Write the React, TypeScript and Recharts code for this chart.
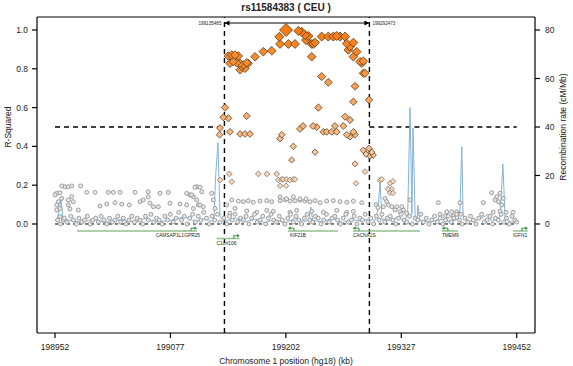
import React from "react";
import { ComposedChart, Scatter, XAxis, YAxis, ReferenceLine } from "recharts";

const FONT = "'Liberation Sans', Arial, Helvetica, sans-serif";

// axes (kb on x, r-squared left, cM/Mb right)
const X_TICKS = [198952, 199077, 199202, 199327, 199452];
const R2_TICKS = [0, 0.2, 0.4, 0.6, 0.8, 1.0];
const RATE_TICKS = [0, 20, 40, 60, 80];
const X_DOMAIN: [number, number] = [198932.5, 199471.8];
const R2_DOMAIN: [number, number] = [-0.562, 1.067];
const RATE_DOMAIN: [number, number] = [-44.96, 85.36];

const TITLE = "rs11584383 ( CEU )";
const BOUNDS = [199135.485, 199292.473];
const BOUND_LABELS = ["199135485", "199292473"];
const BOUND_ARROW_Y = 1.036;
const R2_CUTOFF = 0.5;
const RANGE_START = 198952;
const RANGE_END = 199452;

// query SNP
const KEY_SNP: [number, number][] = [[199202.2, 1.0]];

// SNPs in strong LD (orange diamonds)
const ldStrong: [number, number][] = [
  [199194.9, 0.965], [199195.7, 0.928], [199204.7, 0.928], [199211.9, 0.928],
  [199215.5, 0.995], [199219.2, 0.99], [199222.8, 0.974], [199226.3, 0.969],
  [199223.8, 0.948], [199230, 0.928], [199231.7, 0.928], [199233.6, 0.935],
  [199240.8, 0.966], [199248, 0.966], [199253.4, 0.966], [199257.1, 0.969],
  [199260.7, 0.966], [199266.1, 0.966], [199268, 0.93], [199271.5, 0.914],
  [199275.1, 0.935], [199269.6, 0.897], [199278.7, 0.888], [199275.1, 0.862],
  [199282.3, 0.837], [199284.2, 0.828], [199285.9, 0.777], [199287.7, 0.777],
  [199139.7, 0.866], [199143.4, 0.871], [199146.9, 0.871], [199150.5, 0.866],
  [199141.5, 0.828], [199145.1, 0.837], [199148.8, 0.831], [199152.4, 0.828],
  [199154.2, 0.811], [199155.9, 0.82], [199159.6, 0.831], [199161.3, 0.828],
  [199152.4, 0.794], [199157.8, 0.802], [199168.6, 0.862], [199177.6, 0.888],
  [199186.7, 0.893],
  [199230, 0.862], [199240.8, 0.76], [199248, 0.73], [199237.2, 0.6],
  [199276.9, 0.71], [199275.1, 0.63], [199292, 0.64], [199285.9, 0.84],
  [199136.1, 0.6], [199134.3, 0.55], [199139.7, 0.545], [199159.6, 0.557],
  [199130.7, 0.495], [199130.2, 0.46], [199141.5, 0.475], [199152.4, 0.464],
  [199157.8, 0.464], [199163.2, 0.464], [199195.7, 0.44], [199197.5, 0.46],
  [199217.3, 0.49], [199220.6, 0.505], [199231.4, 0.505], [199235.4, 0.5],
  [199242.6, 0.475], [199246.2, 0.475], [199251.7, 0.475], [199255.2, 0.505],
  [199257.1, 0.475], [199264.2, 0.505], [199266.1, 0.553], [199271.5, 0.536],
  [199268, 0.46], [199271.5, 0.45], [199276.9, 0.46], [199275.1, 0.475],
  [199210.1, 0.4], [199233.6, 0.37], [199208.3, 0.33], [199292, 0.39],
  [199295, 0.37], [199293.1, 0.35], [199296.7, 0.355], [199276.9, 0.31],
  [199285.9, 0.38], [199288.8, 0.36],
];

// weak LD (pale diamonds)
const ldWeak: [number, number][] = [
  [199287.7, 0.27], [199304, 0.225], [199305.8, 0.23], [199314.8, 0.21],
  [199318, 0.22], [199316.6, 0.18], [199312.6, 0.18], [199314.8, 0.16],
  [199318, 0.16], [199140.8, 0.258], [199143.4, 0.218], [199172.2, 0.258],
  [199181.3, 0.258], [199192.1, 0.258], [199193.8, 0.227], [199197.5, 0.23],
  [199199.2, 0.23], [199202.9, 0.23], [199206.5, 0.227], [199210.1, 0.23],
  [199211.9, 0.23], [199195.7, 0.197], [199202.2, 0.197], [199278, 0.21],
  [199130.7, 0.227],
];

// no LD (grey circles)
const ldNone: [number, number][] = [
  [198953.8, 0.158], [198957.4, 0.161], [198959.3, 0.132], [198955.6, 0.115],
  [198962.8, 0.192], [198966.4, 0.192], [198970.1, 0.196], [198959.3, 0.196],
  [198952, 0.15], [198953.8, 0.098], [198957.4, 0.08], [198966.4, 0.124],
  [198970.1, 0.141], [198971.8, 0.115], [198966.4, 0.098], [198968.2, 0.077],
  [198957.4, 0.038], [198977.2, 0.072], [198961, 0.02], [198953.8, 0.072],
  [198979.8, 0.196],
  [198986.3, 0.163], [198995.3, 0.163], [199009.7, 0.163], [199015.1, 0.163],
  [199022.4, 0.163], [199038.6, 0.163], [199053, 0.166], [199065.7, 0.158],
  [199074.7, 0.163], [199053, 0.14],
  [199000.7, 0.093], [199008, 0.103], [199017, 0.11], [199024.2, 0.102],
  [199032.5, 0.098], [199044.1, 0.115], [199047.6, 0.124], [199054.9, 0.107],
  [199058.5, 0.089], [199063.9, 0.089], [199076.5, 0.107], [199087.4, 0.103],
  [199094.6, 0.158], [199098.2, 0.15], [199101.8, 0.141], [199105.5, 0.192],
  [199107.2, 0.098],
  [199100, 0.15], [199103.6, 0.19], [199109, 0.19], [199110.9, 0.166],
  [199105.5, 0.124], [199094.6, 0.098], [199101.8, 0.08], [199109, 0.098],
  [199112.6, 0.089], [199121.7, 0.158], [199123.4, 0.124], [199125.3, 0.08],
  [199137.9, 0.098], [199141.5, 0.055], [199143.4, 0.124], [199146.9, 0.08],
  [199150.5, 0.118], [199155.9, 0.115], [199161.3, 0.12], [199166.7, 0.112],
  [199174, 0.118], [199181.3, 0.12], [199186.7, 0.115], [199195.7, 0.12],
  [199201.1, 0.125], [199206.5, 0.118], [199211.9, 0.12], [199217.3, 0.122],
  [199222.7, 0.118], [199228.2, 0.115], [199233.6, 0.12], [199239, 0.11],
  [199246.2, 0.118], [199253.4, 0.12], [199260.7, 0.115], [199268, 0.112],
  [199275.1, 0.118], [199284.2, 0.11],
  [199195.7, 0.14], [199202.9, 0.13], [199210.1, 0.14], [199217.3, 0.13],
  [199223.8, 0.13],
  [199159.6, 0.067], [199170.4, 0.06], [199181.3, 0.07], [199188.4, 0.065],
  [199206.5, 0.06], [199213.7, 0.07], [199230, 0.065], [199242.6, 0.06],
  [199257.1, 0.07], [199268, 0.06], [199275.1, 0.065],
  [199367.1, 0.11], [199390.6, 0.11], [199415.8, 0.11], [199424.9, 0.161],
  [199430.4, 0.141], [199432.1, 0.115], [199428.5, 0.124], [199433.9, 0.158],
  [199437.5, 0.132], [199435.8, 0.098], [199309.4, 0.132], [199311.2, 0.115],
  [199307.6, 0.089], [199313, 0.098], [199316.6, 0.089], [199322.1, 0.089],
  [199320.2, 0.072], [199325.6, 0.063], [199329.2, 0.072], [199327.5, 0.089],
  [199332.9, 0.055], [199336.5, 0.124], [199369, 0.05], [199376.2, 0.063],
  [199381.6, 0.063], [199387, 0.063], [199391.6, 0.05], [199374.4, 0.04],
  [199383.4, 0.04], [199426.4, 0.06], [199434, 0.065], [199440.4, 0.06],
  [199448, 0.06], [199299.6, 0.1], [199301.8, 0.085],
  // dense band near zero
  [198955, 0.02], [198958, 0.0], [198962, 0.03], [198965, 0.01], [198969, 0.04],
  [198972, 0.02], [198975, 0.0], [198978, 0.03], [198981, 0.01], [198984, 0.02],
  [198987, 0.04], [198990, 0.0], [198993, 0.02], [198996, 0.03], [198999, 0.01],
  [199002, 0.04], [199005, 0.02], [199008, 0.0], [199011, 0.03], [199014, 0.01],
  [199017, 0.02], [199020, 0.04], [199023, 0.01], [199026, 0.03], [199029, 0.0],
  [199032, 0.02], [199035, 0.04], [199038, 0.01], [199041, 0.03], [199044, 0.02],
  [199047, 0.0], [199050, 0.04], [199053, 0.02], [199056, 0.05], [199059, 0.01],
  [199062, 0.03], [199065, 0.02], [199068, 0.0], [199071, 0.04], [199074, 0.02],
  [199077, 0.05], [199080, 0.01], [199083, 0.03], [199086, 0.06], [199089, 0.02],
  [199092, 0.04], [199095, 0.0], [199098, 0.03], [199101, 0.05], [199104, 0.01],
  [199107, 0.04], [199110, 0.02], [199113, 0.06], [199116, 0.03], [199119, 0.0],
  [199122, 0.04], [199125, 0.02], [199128, 0.05], [199131, 0.01],
  [199135, 0.03], [199138, 0.0], [199141, 0.04], [199144, 0.02], [199147, 0.05],
  [199150, 0.01], [199153, 0.03], [199156, 0.02], [199159, 0.04], [199162, 0.0],
  [199165, 0.03], [199168, 0.05], [199171, 0.01], [199174, 0.02], [199177, 0.04],
  [199180, 0.0], [199183, 0.03], [199186, 0.05], [199189, 0.02], [199192, 0.01],
  [199195, 0.04], [199198, 0.02], [199201, 0.0], [199204, 0.03], [199207, 0.05],
  [199210, 0.01], [199213, 0.04], [199216, 0.02], [199219, 0.0], [199222, 0.03],
  [199225, 0.05], [199228, 0.02], [199231, 0.01], [199234, 0.04], [199237, 0.03],
  [199240, 0.0], [199243, 0.02], [199246, 0.05], [199249, 0.01], [199252, 0.03],
  [199255, 0.04], [199258, 0.02], [199261, 0.0], [199264, 0.03], [199267, 0.05],
  [199270, 0.01], [199273, 0.02], [199276, 0.04], [199279, 0.0], [199282, 0.03],
  [199285, 0.02], [199288, 0.05], [199291, 0.01],
  [199294, 0.03], [199297, 0.0], [199300, 0.04], [199303, 0.02], [199306, 0.05],
  [199309, 0.01], [199312, 0.03], [199315, 0.04], [199318, 0.02], [199321, 0.0],
  [199324, 0.03], [199327, 0.05], [199330, 0.02], [199333, 0.01], [199336, 0.04],
  [199339, 0.0], [199342, 0.03], [199345, 0.02], [199348, 0.05], [199351, 0.01],
  [199354, 0.03], [199357, 0.0], [199360, 0.02], [199363, 0.04], [199366, 0.01],
  [199369, 0.03], [199372, 0.0], [199375, 0.02], [199378, 0.04], [199381, 0.01],
  [199384, 0.03], [199387, 0.05], [199390, 0.02], [199393, 0.0], [199396, 0.03],
  [199399, 0.01], [199402, 0.04], [199405, 0.02], [199408, 0.0], [199411, 0.03],
  [199414, 0.05], [199417, 0.01], [199420, 0.02], [199423, 0.04], [199426, 0.0],
  [199429, 0.03], [199432, 0.02], [199435, 0.05], [199438, 0.01], [199441, 0.03],
  [199444, 0.0], [199447, 0.04], [199450, 0.02], [199452, 0.01],
];

// recombination rate (cM/Mb)
const recombRate: [number, number][] = [
  [198952, 1], [198955, 3], [198958.5, 10], [198960.7, 2], [198968, 1.5],
  [198979, 0.8], [198995, 2], [199006, 0.5], [199022, 1.8], [199039, 0.6],
  [199050, 2.5], [199060, 0.8], [199077, 1.5], [199093, 3], [199104, 1],
  [199114, 2], [199124, 1], [199126, 20], [199128.5, 33.5], [199130.7, 3],
  [199136, 1], [199147, 2.5], [199158, 0.8], [199169, 2], [199179, 0.6],
  [199190, 1.8], [199201, 0.5], [199212, 2.2], [199223, 1], [199227, 2],
  [199229, 7], [199231, 1.5], [199241, 0.8], [199252, 2.4], [199263, 0.6],
  [199274, 1.8], [199284.5, 1], [199293, 2.5], [199298, 1.2], [199302, 6],
  [199304, 18], [199306, 2], [199315, 1.5], [199323.5, 3], [199331, 1],
  [199334, 5], [199336.5, 48], [199338.5, 4], [199339.7, 39.6], [199342, 3],
  [199344, 1], [199345, 7.8], [199347, 1.5], [199358, 0.8], [199369, 2],
  [199380, 1], [199388.5, 2], [199390.6, 6], [199392.5, 31.8], [199394, 3],
  [199401, 1], [199412, 2], [199421, 4], [199425, 1], [199434, 3],
  [199437, 24.7], [199439.5, 2], [199445, 1], [199451, 0.5],
];

// genes: name, start, end, row, arrow direction, label position (kb)
const GENE_NAMES = ["CAMSAP1L1", "GPR25", "C1orf106", "KIF21B", "CACNA1S", "TMEM9", "IGFN1"];
const GENE_START = [198975.8, 199090.6, 199127, 199204.3, 199274.7, 199371, 199448];
const GENE_END = [199093.9, 199105.8, 199152, 199258.5, 199347.3, 199388.4, 199464];
const GENE_ROW = [1, 1, 2, 1, 1, 1, 1];
const GENE_DIR = ["", "right", "right", "left", "left", "left", "right"];
const GENE_LABEL_AT = [199061, 199092, 199127, 199206.5, 199274.7, 199371, 199448];
const ROW_Y = [0, -0.036, -0.075];

const toPts = (arr: [number, number][]) => arr.map(([x, y]) => ({ x, y }));

function ldFill(r2: number) {
  const t = Math.max(0, Math.min(1, (r2 - 0.15) / 0.85));
  const lo = [245, 226, 208];
  const hi = [246, 124, 18];
  const c = lo.map((v, i) => Math.round(v + (hi[i] - v) * t));
  return `rgb(${c[0]},${c[1]},${c[2]})`;
}

const Diamond = (props: any) => {
  const { cx, cy, payload } = props;
  if (cx == null || cy == null) return <g />;
  const r2 = payload.y;
  const h = payload.key ? 6.5 : 2.3 + 2.3 * r2;
  return (
    <polygon
      points={`${cx},${cy - h} ${cx + h},${cy} ${cx},${cy + h} ${cx - h},${cy}`}
      fill={ldFill(r2)}
      stroke={r2 < 0.3 ? "#7d6a5e" : "#5a3412"}
      strokeWidth={0.75}
    />
  );
};

const GreyDot = (props: any) => {
  const { cx, cy } = props;
  if (cx == null || cy == null) return <g />;
  return <circle cx={cx} cy={cy} r={2.0} fill="#e8e8e8" stroke="#8a8a8a" strokeWidth={0.8} />;
};

const Nothing = () => <g />;

const GeneTip = (props: any) => {
  const { cx, cy, payload } = props;
  if (cx == null || !payload.dir) return <g />;
  const s = payload.dir === "right" ? 1 : -1;
  const bx = cx - s * 6;
  return (
    <g>
      <path d={`M${bx},${cy} L${bx},${cy - 2.8} L${cx - s * 1.5},${cy - 2.8}`} stroke="#2f8f2f" strokeWidth={1} fill="none" />
      <polygon points={`${cx},${cy - 2.8} ${cx - s * 2.5},${cy - 4.6} ${cx - s * 2.5},${cy - 1}`} fill="#2f8f2f" />
    </g>
  );
};

const GeneLabel = (props: any) => {
  const { cx, cy, payload } = props;
  if (cx == null) return <g />;
  return (
    <text x={cx} y={cy + 6.2} fontSize={4.8} fontFamily={FONT} fill="#222" textAnchor="start">
      {payload.name}
    </text>
  );
};

const BoundTip = (props: any) => {
  const { cx, cy, payload } = props;
  if (cx == null) return <g />;
  const s = payload.side === "left" ? -1 : 1;
  return (
    <g>
      <polygon points={`${cx},${cy} ${cx - s * 5},${cy - 2.6} ${cx - s * 5},${cy + 2.6}`} fill="#000" />
      <text
        x={cx + s * 3}
        y={cy + 1.6}
        fontSize={4.6}
        fontFamily={FONT}
        fill="#222"
        textAnchor={s < 0 ? "end" : "start"}
      >
        {payload.label}
      </text>
    </g>
  );
};

export default function App() {
  const strongSorted = [...ldStrong].sort((a, b) => a[1] - b[1]);
  const genes = GENE_NAMES.map((name, i) => ({
    name,
    pts: [
      { x: GENE_START[i], y: ROW_Y[GENE_ROW[i]], dir: GENE_DIR[i] === "left" ? "left" : "" },
      { x: GENE_END[i], y: ROW_Y[GENE_ROW[i]], dir: GENE_DIR[i] === "right" ? "right" : "" },
    ],
  }));
  const geneLabels = GENE_NAMES.map((name, i) => ({ x: GENE_LABEL_AT[i], y: ROW_Y[GENE_ROW[i]], name }));
  const boundTips = [
    { x: BOUNDS[0], y: BOUND_ARROW_Y, side: "left", label: BOUND_LABELS[0] },
    { x: BOUNDS[1], y: BOUND_ARROW_Y, side: "right", label: BOUND_LABELS[1] },
  ];
  const tickStyle = { fontSize: 8.5, fill: "#222", fontFamily: FONT };

  return (
    <div style={{ position: "absolute", left: 0, top: 0, width: 573, height: 366, background: "#fff" }}>
      <ComposedChart width={573} height={366} margin={{ top: 17, right: 0, bottom: 0, left: 0 }}>
        <XAxis
          type="number"
          dataKey="x"
          domain={X_DOMAIN}
          ticks={X_TICKS}
          allowDataOverflow
          height={33}
          tick={tickStyle}
          tickSize={5}
          tickMargin={6}
          stroke="#000"
          axisLine={{ stroke: "#000", strokeWidth: 1.2 }}
          tickLine={{ stroke: "#000", strokeWidth: 1.2 }}
        />
        <YAxis
          yAxisId="left"
          type="number"
          dataKey="y"
          domain={R2_DOMAIN}
          ticks={R2_TICKS}
          allowDataOverflow
          width={37}
          tick={tickStyle}
          tickSize={5}
          tickMargin={4}
          tickFormatter={(v: number) => v.toFixed(1)}
          axisLine={{ stroke: "#000", strokeWidth: 1.2 }}
          tickLine={{ stroke: "#000", strokeWidth: 1.2 }}
        />
        <YAxis
          yAxisId="right"
          orientation="right"
          type="number"
          dataKey="y"
          domain={RATE_DOMAIN}
          ticks={RATE_TICKS}
          allowDataOverflow
          width={38}
          tick={tickStyle}
          tickSize={5}
          tickMargin={5}
          axisLine={{ stroke: "#000", strokeWidth: 1.2 }}
          tickLine={{ stroke: "#000", strokeWidth: 1.2 }}
        />
        <ReferenceLine yAxisId="left" y={R2_DOMAIN[1]} stroke="#000" strokeWidth={1.2} ifOverflow="visible" />

        {/* recombination rate */}
        <Scatter
          yAxisId="right"
          data={toPts(recombRate)}
          line={{ stroke: "#82b3da", strokeWidth: 1 }}
          lineJointType="linear"
          shape={Nothing}
          isAnimationActive={false}
        />

        <ReferenceLine
          yAxisId="left"
          segment={[{ x: RANGE_START, y: 0 }, { x: RANGE_END, y: 0 }]}
          stroke="#000"
          strokeWidth={1}
          strokeDasharray="3 3"
        />

        <Scatter yAxisId="left" data={toPts(ldNone)} shape={GreyDot} isAnimationActive={false} />
        <Scatter yAxisId="left" data={toPts(ldWeak)} shape={Diamond} isAnimationActive={false} />
        <Scatter yAxisId="left" data={toPts(strongSorted)} shape={Diamond} isAnimationActive={false} />
        <Scatter
          yAxisId="left"
          data={KEY_SNP.map(([x, y]) => ({ x, y, key: true }))}
          shape={Diamond}
          isAnimationActive={false}
        />

        {/* genes */}
        {genes.map((g) => (
          <Scatter
            key={g.name}
            yAxisId="left"
            data={g.pts}
            line={{ stroke: "#8fc18f", strokeWidth: 1.5 }}
            lineJointType="linear"
            shape={GeneTip}
            isAnimationActive={false}
          />
        ))}
        <Scatter yAxisId="left" data={geneLabels} shape={GeneLabel} isAnimationActive={false} />

        {/* LD region bounds */}
        <ReferenceLine yAxisId="left" x={BOUNDS[0]} stroke="#000" strokeWidth={1.4} strokeDasharray="5 4" />
        <ReferenceLine yAxisId="left" x={BOUNDS[1]} stroke="#000" strokeWidth={1.4} strokeDasharray="5 4" />
        <ReferenceLine
          yAxisId="left"
          segment={[{ x: RANGE_START, y: R2_CUTOFF }, { x: BOUNDS[0], y: R2_CUTOFF }]}
          stroke="#000"
          strokeWidth={1.4}
          strokeDasharray="5 4"
        />
        <ReferenceLine
          yAxisId="left"
          segment={[{ x: BOUNDS[1], y: R2_CUTOFF }, { x: RANGE_END, y: R2_CUTOFF }]}
          stroke="#000"
          strokeWidth={1.4}
          strokeDasharray="5 4"
        />
        <ReferenceLine
          yAxisId="left"
          segment={[{ x: BOUNDS[0], y: BOUND_ARROW_Y }, { x: BOUNDS[1], y: BOUND_ARROW_Y }]}
          stroke="#000"
          strokeWidth={1}
        />
        <Scatter yAxisId="left" data={boundTips} shape={BoundTip} isAnimationActive={false} />
      </ComposedChart>

      <svg width={573} height={366} style={{ position: "absolute", left: 0, top: 0, pointerEvents: "none" }}>
        <text x={286} y={11} textAnchor="middle" fontSize={10} fontWeight="bold" fontFamily={FONT} fill="#222">
          {TITLE}
        </text>
        <text
          x={11}
          y={127}
          transform="rotate(-90 11 127)"
          textAnchor="middle"
          fontSize={8.5}
          fontFamily={FONT}
          fill="#222"
        >
          R-Squared
        </text>
        <text
          x={566}
          y={127}
          transform="rotate(-90 566 127)"
          textAnchor="middle"
          fontSize={8.5}
          fontFamily={FONT}
          fill="#222"
        >
          Recombination rate (cM/Mb)
        </text>
        <text x={286} y={364} textAnchor="middle" fontSize={8.5} fontFamily={FONT} fill="#222">
          Chromosome 1 position (hg18) (kb)
        </text>
      </svg>
    </div>
  );
}
